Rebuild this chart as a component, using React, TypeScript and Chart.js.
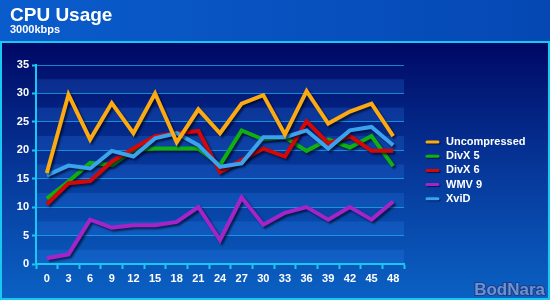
import React, { useEffect, useRef } from "react";
import { Chart, registerables } from "chart.js";

Chart.register(...registerables);

const categories = ["0", "3", "6", "9", "12", "15", "18", "21", "24", "27", "30", "33", "36", "39", "42", "45", "48"];
const uncompressed = [16, 29.8, 21.9, 28.3, 23, 30, 21.4, 27.2, 23, 28.2, 29.7, 22.8, 30.4, 24.7, 26.8, 28.2, 22.5];
const divx5 = [11.5, 14.5, 17.8, 17.4, 20, 20.3, 20.3, 20.3, 17.4, 23.5, 21.9, 22.3, 19.9, 21.9, 20.5, 22.5, 17.2];
const divx6 = [10.5, 14.2, 14.6, 18, 20.3, 22.5, 23, 23.4, 16.2, 18.3, 20.3, 18.9, 25.1, 21.2, 22.5, 19.9, 19.9];
const wmv9 = [1, 1.7, 7.8, 6.4, 6.8, 6.8, 7.4, 10, 4.2, 11.7, 6.9, 9, 10, 7.8, 10, 7.8, 11];
const xvid = [15.6, 17.3, 16.8, 19.9, 18.9, 22.1, 23, 20.9, 17.1, 17.7, 22.3, 22.3, 23.5, 20.3, 23.5, 24.1, 20.9];
const seriesNames = ["Uncompressed", "DivX 5", "DivX 6", "WMV 9", "XviD"];
const seriesColors = ["#fbaa12", "#10b010", "#d40808", "#a424c8", "#3aa2ee"];
const seriesOrder = [0, 3, 2, 4, 1];
const titleText = "CPU Usage";
const subtitleText = "3000kbps";
const watermark = "BodNara";

const FONT = "'Liberation Sans', Arial, sans-serif";

const backgroundPlugin = {
  id: "bgPanel",
  beforeDraw(chart: any) {
    const { ctx, width, height } = chart;
    ctx.save();
    const tg = ctx.createLinearGradient(0, 0, width, 0);
    tg.addColorStop(0, "#0a5ccc");
    tg.addColorStop(1, "#0548b4");
    ctx.fillStyle = tg;
    ctx.fillRect(0, 0, width, 42);
    const pg = ctx.createLinearGradient(0, 42, 0, height);
    pg.addColorStop(0, "#000864");
    pg.addColorStop(0.5, "#06389a");
    pg.addColorStop(1, "#0a62c4");
    ctx.fillStyle = pg;
    ctx.fillRect(0, 42, width, height - 42);
    ctx.strokeStyle = "#18c8f0";
    ctx.lineWidth = 2;
    ctx.strokeRect(1, 42, width - 2, height - 43);
    ctx.fillStyle = "#ffffff";
    ctx.textBaseline = "alphabetic";
    ctx.textAlign = "left";
    ctx.font = `bold 19px ${FONT}`;
    ctx.fillText(titleText, 10, 21);
    ctx.font = `bold 11px ${FONT}`;
    ctx.fillText(subtitleText, 10, 33);
    const ca = chart.chartArea;
    const y = chart.scales.y;
    ctx.fillStyle = "rgba(50,140,255,0.2)";
    for (let v = 0; v < 35; v += 5) {
      const y1 = y.getPixelForValue(v);
      const y2 = y.getPixelForValue(v + 2.5);
      ctx.fillRect(ca.left, y2, ca.right - ca.left, y1 - y2);
    }
    ctx.restore();
  },
  beforeDatasetsDraw(chart: any) {
    const ctx = chart.ctx;
    ctx.save();
    ctx.shadowColor = "rgba(0,0,20,0.6)";
    ctx.shadowOffsetX = 2;
    ctx.shadowOffsetY = 2;
    ctx.shadowBlur = 2;
  },
  afterDatasetsDraw(chart: any) {
    chart.ctx.restore();
  },
  afterDraw(chart: any) {
    const { ctx, width, height } = chart;
    ctx.save();
    chart.data.datasets.forEach((ds: any, i: number) => {
      const yy = 142 + i * 14.2;
      ctx.save();
      ctx.shadowColor = "rgba(0,0,20,0.6)";
      ctx.shadowOffsetX = 1;
      ctx.shadowOffsetY = 1;
      ctx.shadowBlur = 1;
      ctx.strokeStyle = ds.borderColor;
      ctx.lineWidth = 3;
      ctx.lineCap = "round";
      ctx.beginPath();
      ctx.moveTo(427, yy);
      ctx.lineTo(438, yy);
      ctx.stroke();
      ctx.restore();
      ctx.fillStyle = "#ffffff";
      ctx.font = `bold 11px ${FONT}`;
      ctx.textBaseline = "middle";
      ctx.textAlign = "left";
      ctx.fillText(ds.label, 446, yy);
    });
    ctx.font = `bold 17px ${FONT}`;
    ctx.textAlign = "right";
    ctx.textBaseline = "alphabetic";
    ctx.lineWidth = 2;
    ctx.strokeStyle = "#1a3e8e";
    ctx.strokeText(watermark, width - 5, height - 5);
    ctx.fillStyle = "#6e92cc";
    ctx.fillText(watermark, width - 5, height - 5);
    ctx.restore();
  },
};

export default function App() {
  const ref = useRef<HTMLCanvasElement | null>(null);
  useEffect(() => {
    document.body.style.margin = "0";
    const data = [uncompressed, divx5, divx6, wmv9, xvid];
    const chart = new Chart(ref.current as HTMLCanvasElement, {
      type: "line",
      data: {
        labels: categories,
        datasets: data.map((d, i) => ({
          label: seriesNames[i],
          data: d,
          order: seriesOrder[i],
          borderColor: seriesColors[i],
          backgroundColor: seriesColors[i],
          borderWidth: 4,
          pointRadius: 0,
          tension: 0,
          borderJoinStyle: "miter" as const,
          fill: false,
        })),
      },
      options: {
        animation: false,
        responsive: false,
        maintainAspectRatio: false,
        layout: { padding: { left: 0, top: 65, right: 146, bottom: 0 } },
        plugins: { legend: { display: false }, tooltip: { enabled: false }, title: { display: false } },
        scales: {
          x: {
            offset: true,
            afterFit: (s: any) => { s.height = 36; },
            grid: {
              offset: true,
              drawOnChartArea: false,
              color: "#18c8f0",
              tickColor: "#18c8f0",
              tickLength: 5,
              tickWidth: 2,
            },
            border: { color: "#18c8f0", width: 2 },
            ticks: {
              color: "#ffffff",
              font: { family: FONT, size: 11, weight: "bold" },
              padding: 3,
              maxRotation: 0,
              autoSkip: false,
            },
          },
          y: {
            min: 0,
            max: 35,
            afterFit: (s: any) => { s.width = 36; },
            grid: {
              color: "rgba(30,180,240,0.7)",
              lineWidth: 1,
              tickLength: 4,
              tickWidth: 2,
              tickColor: (c: any) => (c.tick && c.tick.value % 5 === 0 ? "#18c8f0" : "rgba(0,0,0,0)"),
            },
            border: { color: "#18c8f0", width: 2 },
            ticks: {
              stepSize: 2.5,
              color: "#ffffff",
              font: { family: FONT, size: 11, weight: "bold" },
              padding: 3,
              callback: (v: any) => (Number(v) % 5 === 0 ? String(v) : ""),
            },
          },
        },
      },
      plugins: [backgroundPlugin],
    });
    return () => chart.destroy();
  }, []);
  return (
    <div style={{ width: 550, height: 300 }}>
      <canvas ref={ref} width={550} height={300} style={{ display: "block", width: 550, height: 300 }} />
    </div>
  );
}
